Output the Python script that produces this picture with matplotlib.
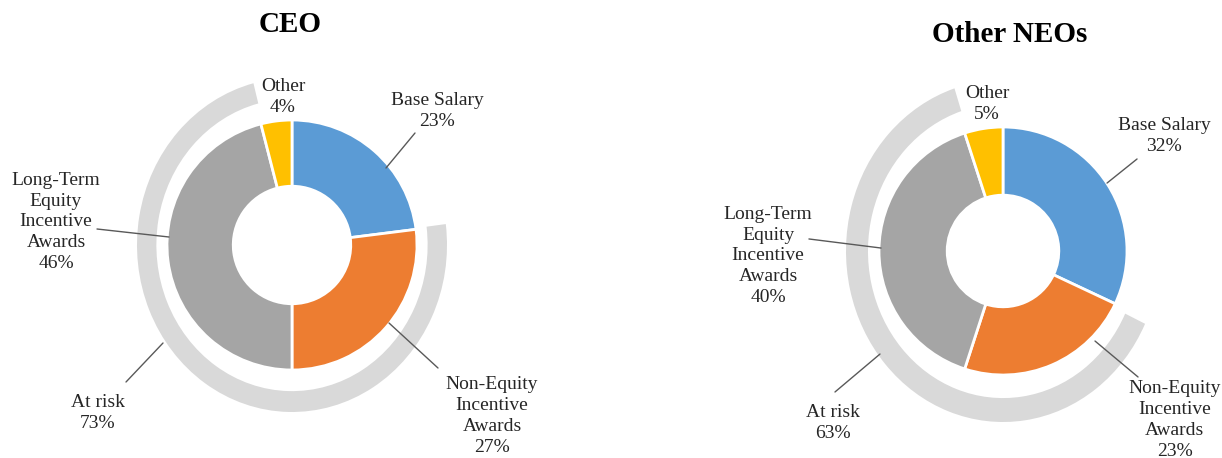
import matplotlib.pyplot as plt

# data
categories = ['Base Salary', 'Non-Equity\nIncentive\nAwards', 'Long-Term\nEquity\nIncentive\nAwards', 'Other']
ceo_values = [23, 27, 46, 4]
neo_values = [32, 23, 40, 5]
ceo_at_risk = 73
neo_at_risk = 63
titles = ['CEO', 'Other NEOs']

colors = ['#5B9BD5', '#ED7D31', '#A5A5A5', '#FFC000']
ring_gray = '#D9D9D9'
line_col = '#595959'

plt.rcParams['font.family'] = ['Liberation Serif', 'DejaVu Serif']

W, H = 1222, 458
fig = plt.figure(figsize=(W / 100, H / 100), dpi=100)


def donut(cx, cy, R, hole, ring_a, ring_b, ring_w, values, at_risk, label_pos, leaders, risk_pos, risk_leader):
    hw, hh = 260, 240
    rect = [(cx - hw) / W, (H - cy - hh) / H, 2 * hw / W, 2 * hh / H]

    # outer "at risk" arc, slightly elliptical like the original
    axr = fig.add_axes(rect)
    axr.pie([values[0], at_risk, values[3]], radius=1, startangle=90, counterclock=False,
            colors=['none', ring_gray, 'none'],
            wedgeprops=dict(width=ring_w, edgecolor='none'))
    axr.set_aspect('auto')
    axr.set_xlim(-hw / ring_a, hw / ring_a)
    axr.set_ylim(-hh / ring_b, hh / ring_b)
    axr.axis('off')

    ax = fig.add_axes(rect)
    ax.pie(values, radius=1, startangle=90, counterclock=False, colors=colors,
           wedgeprops=dict(width=1 - hole, edgecolor='white', linewidth=2))
    ax.set_aspect('auto')
    ax.set_xlim(-hw / R, hw / R)
    ax.set_ylim(-hh / R, hh / R)
    ax.axis('off')

    lbl = dict(ha='center', va='center', fontsize=14, linespacing=1.3, color='#262626')
    for name, v, pos, ld in zip(categories, values, label_pos, leaders):
        ax.text(pos[0], pos[1], f'{name}\n{v}%', **lbl)
        if ld is not None:
            ax.annotate('', xy=ld[1], xytext=ld[0],
                        arrowprops=dict(arrowstyle='-', color=line_col, lw=1,
                                        shrinkA=0, shrinkB=0))
    ax.text(risk_pos[0], risk_pos[1], f'At risk\n{at_risk}%', **lbl)
    ax.annotate('', xy=risk_leader[1], xytext=risk_leader[0],
                arrowprops=dict(arrowstyle='-', color=line_col, lw=1, shrinkA=0, shrinkB=0))
    return ax


# CEO
donut(292, 245, 125, 0.47, 155, 167, 0.125, ceo_values, ceo_at_risk,
      label_pos=[(1.16, 1.072), (1.6, -1.368), (-1.888, 0.184), (-0.072, 1.184)],
      leaders=[((0.984, 0.896), (0.752, 0.616)),
               ((1.168, -0.984), (0.776, -0.624)),
               ((-1.56, 0.128), (-0.984, 0.064)),
               None],
      risk_pos=(-1.552, -1.344),
      risk_leader=((-1.328, -1.096), (-1.032, -0.784)))

# Other NEOs
donut(1003, 251, 124, 0.45, 157, 171, 0.14, neo_values, neo_at_risk,
      label_pos=[(1.298, 0.927), (1.385, -1.363), (-1.895, -0.040), (-0.129, 1.185)],
      leaders=[((1.081, 0.742), (0.839, 0.548)),
               ((1.089, -1.016), (0.742, -0.726)),
               ((-1.565, 0.097), (-0.984, 0.024)),
               None],
      risk_pos=(-1.371, -1.387),
      risk_leader=((-1.355, -1.137), (-0.992, -0.831)))

fig.text(290 / W, 1 - 25 / H, titles[0], ha='center', va='center', fontsize=21, fontweight='bold')
fig.text(1010 / W, 1 - 34 / H, titles[1], ha='center', va='center', fontsize=21, fontweight='bold')

fig.savefig('out.png', dpi=100, facecolor='white')
